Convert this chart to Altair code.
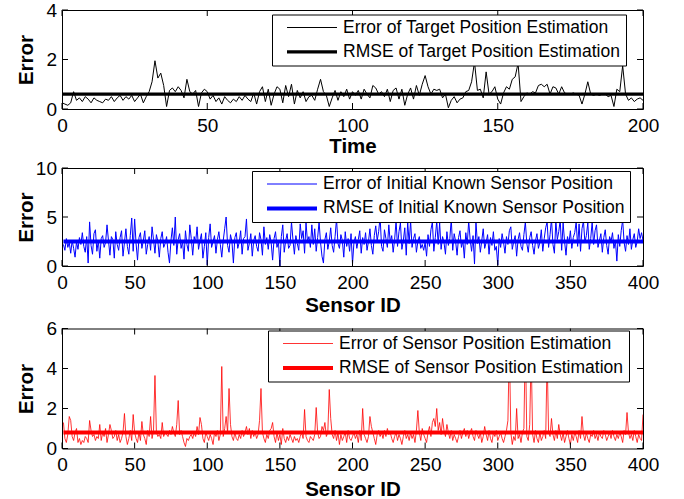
import altair as alt
import pandas as pd

FONT = "Liberation Sans"

# ---------------- Panel 1: target position error vs time (t = 0..200) ----------------
target_error = [
    0.25,
    0.2, 0.15, 0.25, 0.7, 0.35, 0.45, 0.3, 0.5, 0.4, 0.25,
    0.45, 0.35, 0.3, 0.25, 0.4, 0.35, 0.5, 0.3, 0.45, 0.55,
    0.35, 0.5, 0.4, 0.55, 0.3, 0.45, 0.6, 0.25, 0.5, 0.7,
    1.1, 1.95, 1.25, 1.45, 0.95, 0.1, 0.75, 0.85, 0.7, 0.9,
    0.75, 0.45, 1.2, 0.7, 0.6, 0.75, 0.1, 0.65, 0.8, 0.7,
    0.4, 0.55, 0.3, 0.45, 0.2, 0.5, 0.35, 0.25, 0.4, 0.3,
    0.5, 0.35, 0.55, 0.4, 0.3, 0.65, 0.2, 0.7, 0.9, 0.3,
    0.8, 0.15, 0.6, 0.9, 0.8, 0.25, 0.95, 0.5, 1.0, 0.2,
    0.75, 0.45, 0.7, 0.3, 0.5, 0.55, 0.35, 0.8, 1.2, 0.7,
    0.55, 0.1, 0.45, 0.75, 0.35, 0.7, 0.5, 0.8, 0.4, 0.7,
    0.55, 0.75, 0.4, 0.8, 0.6, 0.45, 0.95, 0.85, 0.6, 0.7,
    0.5, 0.8, 0.3, 0.75, 0.85, 0.4, 0.8, 0.15, 0.6, 0.85,
    0.4, 0.95, 0.55, 1.0, 1.35, 0.9, 0.6, 0.8, 0.75, 0.8,
    0.45, 0.6, 0.05, 0.35, 0.5, 0.25, 0.4, 0.45, 0.7, 0.75,
    1.1, 1.9, 0.75, 0.8, 0.45, 1.5, 0.6, 0.7, 0.9, 0.4,
    0.2, 0.65, 0.9, 0.8, 1.2, 1.3, 1.85, 0.3, 0.5, 0.65,
    0.6, 0.7, 0.65, 0.95, 1.0, 0.9, 1.0, 0.6, 0.9, 0.85,
    0.6, 0.9, 0.65, 0.6, 0.6, 0.65, 0.6, 0.55, 0.2, 0.6,
    1.1, 0.6, 0.55, 0.6, 0.55, 0.6, 0.6, 0.5, 0.55, 0.1,
    0.8, 0.7, 1.75, 0.6, 0.35, 0.45, 0.3, 0.4, 0.45, 0.35,
]
target_rmse = 0.6
target_labels = ["Error of Target Position Estimation", "RMSE of Target Position Estimation"]

# ---------------- Panel 2: initial known sensor position error (ID 1..400) ----------------
initial_error = [
    2.2, 1.6, 2.8, 1.9, 2.4, 1.3, 2.6, 1.8, 0.9, 2.5, 1.7, 2.9, 2.2, 3.4, 2.0, 1.4, 3.0, 0.3, 4.5, 2.1,
    1.2, 3.3, 3.7, 1.5, 2.6, 0.8, 2.8, 3.1, 1.9, 2.4, 4.2, 2.6, 1.1, 3.0, 2.7, 0.8, 3.5, 2.2, 1.6, 2.9,
    3.6, 1.0, 2.4, 3.8, 2.0, 1.2, 3.1, 4.9, 1.5, 4.8, 2.3, 0.6, 2.9, 3.4, 1.8, 2.6, 3.6, 1.2, 2.2, 3.0,
    1.6, 4.0, 2.7, 1.3, 3.2, 2.5, 0.9, 2.8, 3.5, 1.9, 2.3, 3.0, 1.4, 0.3, 2.6, 3.9, 2.1, 5.0, 1.2, 2.7,
    3.3, 1.8, 2.5, 0.7, 3.6, 2.2, 1.5, 4.2, 2.8, 1.1, 3.0, 2.4, 4.0, 1.7, 2.6, 3.3, 0.8, 2.0, 3.4, 0.1,
    2.9, 4.3, 1.9, 2.5, 3.1, 1.3, 2.7, 3.5, 2.2, 0.9, 2.6, 3.8, 5.0, 2.1, 1.4, 3.2, 2.5, 0.3, 2.9, 3.4,
    1.8, 2.4, 3.6, 1.2, 2.8, 3.0, 4.8, 1.6, 2.3, 3.3, 1.0, 2.6, 3.1, 2.0, 1.5, 3.4, 2.7, 1.1, 4.0, 2.2,
    2.9, 1.7, 3.2, 2.4, 0.6, 2.8, 3.5, 1.9, 2.5, 0.0, 3.0, 4.2, 1.4, 2.6, 3.3, 1.8, 2.1, 4.5, 2.7, 1.2,
    3.1, 2.3, 1.6, 4.3, 2.8, 3.6, 1.3, 4.4, 2.5, 3.0, 1.9, 4.2, 2.2, 3.8, 1.5, 2.9, 4.5, 2.4, 1.0, 0.3,
    2.7, 3.4, 1.7, 2.5, 3.9, 2.1, 1.4, 3.0, 4.8, 2.3, 1.8, 3.2, 2.6, 0.9, 3.5, 2.0, 2.8, 1.5, 3.3, 0.2,
    2.4, 3.0, 1.8, 2.7, 3.6, 1.3, 2.9, 2.2, 3.4, 1.6, 2.5, 3.8, 2.1, 1.2, 3.1, 4.1, 2.6, 3.5, 5.0, 2.0,
    1.5, 3.7, 2.8, 1.9, 4.2, 2.4, 3.1, 1.4, 2.7, 4.6, 2.0, 3.5, 4.4, 1.7, 2.6, 3.9, 1.1, 4.5, 2.3, 4.6,
    1.9, 2.8, 3.3, 1.4, 2.5, 3.0, 1.8, 2.2, 1.6, 2.4, 1.0, 3.2, 2.0, 3.7, 4.5, 1.5, 2.9, 4.6, 2.2, 4.4,
    1.7, 3.0, 2.4, 1.2, 3.5, 2.1, 2.8, 4.8, 1.6, 3.3, 2.5, 1.1, 2.9, 3.6, 1.9, 2.6, 0.8, 3.4, 2.2, 4.6,
    2.7, 1.5, 3.1, 0.2, 4.5, 2.3, 3.0, 1.4, 2.6, 3.8, 1.8, 2.4, 3.2, 1.2, 2.9, 2.1, 3.5, 1.6, 2.0, 0.1,
    2.8, 1.9, 3.3, 2.4, 1.3, 3.0, 2.2, 3.6, 4.0, 1.7, 2.5, 3.1, 1.0, 2.7, 3.4, 2.0, 1.6, 3.2, 4.5, 2.3,
    1.4, 2.9, 3.5, 2.1, 1.2, 2.6, 3.3, 1.8, 2.4, 3.7, 1.5, 2.8, 3.9, 4.5, 1.9, 3.2, 4.8, 2.2, 1.3, 4.6,
    2.7, 3.5, 4.7, 1.6, 4.4, 2.5, 1.1, 3.0, 2.3, 3.6, 1.8, 2.9, 3.4, 4.5, 2.0, 4.3, 1.5, 3.8, 4.6, 2.4,
    3.1, 4.4, 1.7, 2.8, 4.5, 2.2, 3.6, 4.2, 1.9, 2.6, 3.3, 1.4, 2.9, 3.7, 2.1, 1.2, 3.0, 2.5, 3.4, 1.8,
    2.6, 0.5, 3.2, 2.0, 3.6, 4.7, 2.4, 1.5, 3.1, 2.2, 3.8, 1.7, 2.7, 3.3, 1.9, 2.5, 3.8, 2.8, 3.4, 2.6,
]
initial_rmse = 2.5
initial_labels = ["Error of Initial Known Sensor Position", "RMSE of Initial Known Sensor Position"]

# ---------------- Panel 3: estimated sensor position error (ID 1..400) ----------------
estimate_error = [
    1.3, 0.5, 0.3, 0.7, 1.6, 1.4, 0.6, 0.4, 0.8, 1.0, 0.3, 0.5, 0.2, 0.4, 0.3, 0.6, 0.5, 0.3, 1.4, 0.9,
    0.6, 0.7, 0.4, 0.6, 0.5, 1.2, 0.4, 0.8, 0.6, 1.0, 0.3, 0.7, 1.2, 0.9, 0.5, 0.6, 0.9, 0.4, 0.7, 0.3,
    0.5, 0.8, 1.75, 0.6, 0.2, 0.5, 0.9, 0.4, 1.7, 0.8, 0.5, 0.3, 0.8, 0.4, 1.35, 0.7, 0.5, 0.2, 0.9, 0.6,
    1.6, 0.5, 0.9, 3.65, 0.8, 0.6, 0.7, 0.5, 1.3, 0.6, 0.8, 0.7, 0.6, 0.9, 0.7, 1.1, 0.8, 0.6, 1.2, 2.4,
    0.7, 0.9, 0.6, 0.3, 0.1, 0.5, 0.4, 0.6, 0.7, 0.5, 0.8, 0.6, 1.1, 0.7, 1.55, 1.2, 0.5, 0.3, 0.8, 0.6,
    0.4, 0.7, 0.5, 0.2, 0.8, 0.6, 0.9, 0.4, 0.7, 4.1, 0.6, 1.0, 1.6, 0.8, 3.0, 1.2, 0.6, 0.4, 0.8, 0.5,
    0.4, 0.7, 0.5, 0.9, 0.6, 0.8, 1.1, 0.7, 1.0, 0.5, 0.9, 0.6, 0.8, 0.5, 0.7, 1.4, 3.0, 0.8, 0.5, 0.3,
    0.7, 0.5, 0.9, 1.0, 1.3, 0.6, 0.3, 0.8, 0.4, 0.7, 0.2, 1.0, 0.5, 0.3, 0.6, 0.4, 0.7, 0.5, 0.3, 0.6,
    0.4, 0.5, 0.3, 0.6, 0.8, 0.5, 1.95, 0.6, 0.4, 0.3, 0.6, 0.5, 0.4, 0.7, 2.05, 0.8, 0.5, 0.6, 1.1, 0.9,
    1.3, 0.6, 0.8, 2.95, 1.5, 0.7, 0.5, 0.9, 0.4, 0.8, 0.2, 0.7, 0.4, 0.6, 0.8, 0.3, 0.9, 0.5, 0.4, 0.6,
    0.8, 0.5, 0.7, 0.3, 0.9, 0.4, 2.0, 0.7, 0.5, 0.3, 0.6, 1.6, 1.1, 0.8, 0.5, 0.2, 0.7, 0.9, 0.6, 0.8,
    0.5, 0.9, 0.6, 1.0, 0.7, 0.8, 0.5, 0.3, 0.6, 0.8, 0.4, 0.7, 0.5, 0.2, 0.6, 0.9, 0.5, 0.7, 0.4, 0.8,
    0.5, 0.7, 0.3, 0.9, 1.9, 0.8, 0.4, 1.0, 0.7, 0.5, 0.3, 0.8, 1.1, 0.6, 1.3, 1.5, 1.1, 2.0, 0.9, 1.3,
    0.7, 1.5, 0.9, 0.6, 1.2, 0.8, 0.5, 0.9, 0.4, 0.7, 0.5, 0.3, 0.6, 0.9, 0.5, 0.8, 1.0, 0.6, 0.9, 0.5,
    0.8, 1.0, 0.6, 0.4, 0.9, 0.7, 0.5, 0.8, 0.3, 0.6, 1.1, 0.7, 0.4, 0.9, 0.5, 0.3, 0.8, 0.6, 0.9, 0.4,
    0.6, 0.8, 0.5, 0.3, 0.6, 0.9, 1.4, 5.2, 0.8, 0.2, 0.6, 0.4, 2.0, 0.5, 0.7, 0.3, 0.8, 1.0, 5.6, 0.6,
    0.4, 1.2, 4.8, 0.7, 0.3, 0.9, 0.5, 0.3, 0.8, 0.4, 0.6, 0.9, 0.5, 4.6, 0.8, 0.6, 1.5, 0.7, 0.4, 0.9,
    0.5, 1.2, 0.7, 0.4, 0.8, 0.3, 0.6, 0.9, 0.5, 0.2, 0.7, 0.4, 0.8, 0.6, 0.3, 0.9, 0.5, 1.6, 0.7, 0.4,
    0.8, 0.5, 0.3, 0.7, 0.6, 0.9, 0.5, 0.7, 0.4, 0.8, 0.6, 0.5, 0.9, 0.7, 0.4, 0.6, 0.8, 0.5, 0.9, 0.6,
    0.4, 0.7, 0.5, 0.8, 0.6, 0.3, 0.9, 0.7, 1.8, 0.8, 0.5, 0.7, 0.4, 0.9, 0.6, 0.3, 0.7, 0.5, 0.4, 1.7,
]
estimate_rmse = 0.8
estimate_labels = ["Error of Sensor Position Estimation", "RMSE of Sensor Position Estimation"]

# ---------------- Axis ticks ----------------
time_ticks = [0, 50, 100, 150, 200]
sensor_ticks = [0, 50, 100, 150, 200, 250, 300, 350, 400]
y_ticks_1 = [0, 2, 4]
y_ticks_2 = [0, 5, 10]
y_ticks_3 = [0, 2, 4, 6]

PLOT_W = 581
TICK_LEN = 6


def make_panel(xs, err, rmse, labels, color, widths, x_title, x_ticks, y_ticks,
               height, legend_x, legend_y, title_y):
    n = len(xs)
    df = pd.DataFrame({
        "x": list(xs) + list(xs),
        "value": list(err) + [rmse] * n,
        "series": [labels[0]] * n + [labels[1]] * n,
    })
    x_scale = alt.Scale(domain=[x_ticks[0], x_ticks[-1]], nice=False, zero=False)
    y_scale = alt.Scale(domain=[y_ticks[0], y_ticks[-1]], nice=False, zero=False)
    x_axis = alt.Axis(values=x_ticks, title=x_title, titleY=title_y, titleBaseline="top",
                      labelFlush=False, labelOverlap=False, labelPadding=7,
                      ticks=False, tickSize=0, domain=False, grid=False)
    y_axis = alt.Axis(values=y_ticks, title="Error", titleX=-25.7,
                      labelFlush=False, labelOverlap=False, labelPadding=5.5,
                      ticks=False, tickSize=0, domain=False, grid=False)
    legend = alt.Legend(
        orient="none", legendX=legend_x, legendY=legend_y, direction="vertical",
        title=None, symbolType="stroke", symbolSize=2500, clipHeight=16,
        padding=5, rowPadding=6.4, symbolOffset=8, labelOffset=4, labelLimit=600,
        labelFont=FONT, labelFontSize=17.5, labelColor="black",
        fillColor="white", strokeColor="black",
    )
    lines = alt.Chart(df).mark_line(clip=True).encode(
        x=alt.X("x:Q", scale=x_scale, axis=x_axis),
        y=alt.Y("value:Q", scale=y_scale, axis=y_axis),
        color=alt.Color("series:N", scale=alt.Scale(domain=labels, range=[color, color]), legend=legend),
        strokeWidth=alt.StrokeWidth("series:N", scale=alt.Scale(type="ordinal", domain=labels, range=widths),
                                    legend=legend),
    )
    xt = pd.DataFrame({"x": x_ticks})
    yt = pd.DataFrame({"value": y_ticks})
    bottom = alt.Chart(xt).mark_rule(color="black", strokeWidth=1).encode(
        x=alt.X("x:Q", scale=x_scale, axis=x_axis), y=alt.value(height), y2=alt.value(height - TICK_LEN))
    top = alt.Chart(xt).mark_rule(color="black", strokeWidth=1).encode(
        x=alt.X("x:Q", scale=x_scale, axis=x_axis), y=alt.value(0), y2=alt.value(TICK_LEN))
    left = alt.Chart(yt).mark_rule(color="black", strokeWidth=1).encode(
        y=alt.Y("value:Q", scale=y_scale, axis=y_axis), x=alt.value(0), x2=alt.value(TICK_LEN))
    right = alt.Chart(yt).mark_rule(color="black", strokeWidth=1).encode(
        y=alt.Y("value:Q", scale=y_scale, axis=y_axis), x=alt.value(PLOT_W), x2=alt.value(PLOT_W - TICK_LEN))
    return alt.layer(lines, bottom, top, left, right).properties(width=PLOT_W, height=height)


time_x = list(range(len(target_error)))
sensor_x1 = list(range(1, len(initial_error) + 1))
sensor_x2 = list(range(1, len(estimate_error) + 1))

p1 = make_panel(time_x, target_error, target_rmse, target_labels, "#000000", [1.0, 3.3],
                "Time", time_ticks, y_ticks_1, 99, 210, 4.5, 27.8)
p2 = make_panel(sensor_x1, initial_error, initial_rmse, initial_labels, "#0000FF", [1.0, 4.0],
                "Sensor ID", sensor_ticks, y_ticks_2, 98, 190, 3, 29.8)
p3 = make_panel(sensor_x2, estimate_error, estimate_rmse, estimate_labels, "#FF0000", [0.8, 4.0],
                "Sensor ID", sensor_ticks, y_ticks_3, 120, 206, 2, 30.8)

inner = alt.vconcat(p1, p2, spacing=0).resolve_scale(
    x="independent", y="independent", color="independent", strokeWidth="independent"
).resolve_legend(color="independent", strokeWidth="independent")

chart = alt.vconcat(inner, p3, spacing=1.5).resolve_scale(
    x="independent", y="independent", color="independent", strokeWidth="independent"
).resolve_legend(color="independent", strokeWidth="independent").properties(
    padding={"left": 15, "top": 0, "right": 5, "bottom": 0},
    background="white",
).configure_view(stroke="black", strokeWidth=1).configure_axis(
    labelFont=FONT, labelFontSize=19, labelColor="black",
    titleFont=FONT, titleFontSize=20.5, titleFontWeight="bold", titleColor="black",
)

chart.save("out.html", embed_options={"renderer": "svg", "actions": False})
